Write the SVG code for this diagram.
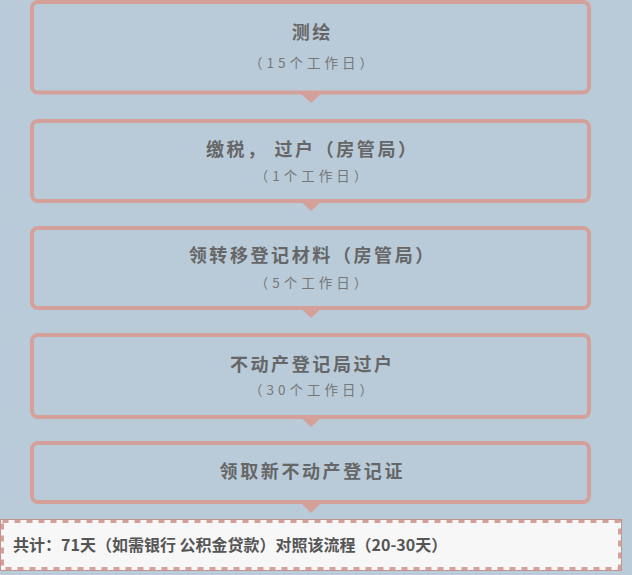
<svg xmlns="http://www.w3.org/2000/svg" width="632" height="575" viewBox="0 0 632 575">
<style>
.box{fill:#b9cbd9;stroke:#d4a09a;stroke-width:4}
.tri{fill:#d4a09a}
.t{font-family:"Noto Sans CJK SC","Noto Sans",sans-serif;font-weight:bold;font-size:18px;fill:#666;letter-spacing:2.6px;text-anchor:middle}
.s{font-family:"Noto Sans CJK SC","Noto Sans",sans-serif;font-size:13.5px;fill:#777;letter-spacing:4px;text-anchor:middle}
.n{font-family:"Noto Sans CJK SC","Liberation Sans",sans-serif;font-weight:bold;font-size:16px;fill:#555}
</style>
<rect width="632" height="575" fill="#b9cbd9"/>
<g id="connectors">
<polygon class="tri" points="299,92 323,92 311,103"/>
<polygon class="tri" points="299,200 323,200 311,211"/>
<polygon class="tri" points="299,307 323,307 311,318"/>
<polygon class="tri" points="299,416 323,416 311,427"/>
<polygon class="tri" points="299,501 323,501 311,513"/>
</g>
<g id="node1">
<rect class="box" x="32" y="2" width="557" height="90.5" rx="6"/>
<text class="t" x="312.3" y="38.5">测绘</text>
<text class="s" x="313" y="67.5">（15个工作日）</text>
</g>
<g id="node2">
<rect class="box" x="32" y="121" width="557" height="80" rx="6"/>
<text class="t" x="312.3" y="155.5">缴税， 过户（房管局）</text>
<text class="s" x="313" y="180.5">（1个工作日）</text>
</g>
<g id="node3">
<rect class="box" x="32" y="228" width="557" height="80" rx="6"/>
<text class="t" x="312.3" y="261.5">领转移登记材料（房管局）</text>
<text class="s" x="313" y="287.5">（5个工作日）</text>
</g>
<g id="node4">
<rect class="box" x="32" y="335" width="557" height="82" rx="6"/>
<text class="t" x="312.3" y="370.5">不动产登记局过户</text>
<text class="s" x="313" y="394.5">（30个工作日）</text>
</g>
<g id="node5">
<rect class="box" x="32" y="443" width="557" height="59" rx="6"/>
<text class="t" x="312.3" y="477.5">领取新不动产登记证</text>
</g>
<g id="note">
<rect x="0.5" y="519.5" width="621" height="51" fill="#f8f7f7" stroke="#bf9491" stroke-width="1"/>
<rect x="2.5" y="521.5" width="617" height="47" fill="none" stroke="#d4a09a" stroke-width="3" stroke-dasharray="6 6"/>
<text class="n" x="13" y="551">共计：71天（如需银行 公积金贷款）对照该流程（20-30天）</text>
</g>
</svg>
